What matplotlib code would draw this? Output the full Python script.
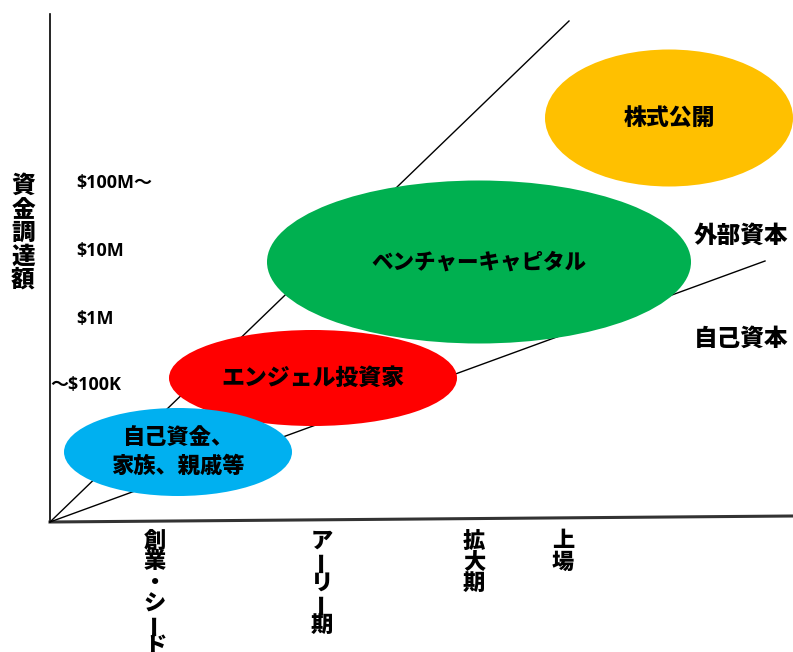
import matplotlib.pyplot as plt
from matplotlib.patches import Ellipse

plt.rcParams["font.family"] = ["Noto Sans CJK JP", "DejaVu Sans"]

# funding stages (x axis) and amounts (y axis)
stage_labels = ["創業・シード", "アーリー期", "拡大期", "上場"]
stage_x = [155, 322, 474, 563]
amount_labels = ["$100M〜", "$10M", "$1M", "〜$100K"]
amount_y = [183, 251, 319, 385]
amount_x = [76, 76, 76, 50]

# funding sources drawn as ellipses: label, centre, width, height, colour
source_labels = ["エンジェル投資家", "自己資金、\n家族、親戚等", "ベンチャーキャピタル", "株式公開"]
source_cx = [313, 178, 479, 669]
source_cy = [378, 452, 262, 118]
source_w = [288, 228, 424, 248]
source_h = [96, 88, 163, 137]
source_colors = ["#FF0000", "#00B0F0", "#00B050", "#FFC000"]

capital_labels = ["外部資本", "自己資本"]
capital_y = [236, 339]


def vertical_text(ax, x, y0, text, step, size):
    """Stack characters top to bottom, turning long vowel marks upright."""
    for i, ch in enumerate(text):
        rot = 90 if ch == "ー" else 0
        ax.text(x, y0 + i * step, ch, ha="center", va="center", rotation=rot,
                fontsize=size, fontweight="heavy")


fig = plt.figure(figsize=(7.93, 6.52), dpi=100)
ax = fig.add_axes([0, 0, 1, 1])
ax.set_xlim(0, 793)
ax.set_ylim(652, 0)
ax.axis("off")

# axes and the two boundary lines
ax.plot([50, 50], [14, 522], color="black", lw=1.2)
ax.plot([50, 793], [522, 516], color="#333333", lw=2.2)
ax.plot([50, 569], [522, 21], color="black", lw=1)
ax.plot([50, 765], [522, 261], color="black", lw=1)

label_sizes = [16.5, 16, 15.5, 16.5]
for i in range(len(source_labels)):
    ax.add_patch(Ellipse((source_cx[i], source_cy[i]), source_w[i], source_h[i],
                         facecolor=source_colors[i], edgecolor="none", zorder=3))
    ax.text(source_cx[i], source_cy[i], source_labels[i], ha="center", va="center",
            fontsize=label_sizes[i], fontweight="heavy", linespacing=1.35, zorder=4)

for lab, x, y in zip(amount_labels, amount_x, amount_y):
    ax.text(x, y, lab, ha="left", va="center", fontsize=13, fontweight="bold",
            family=["Open Sans", "Noto Sans CJK JP"])

for lab, y in zip(capital_labels, capital_y):
    ax.text(741, y, lab, ha="center", va="center", fontsize=17, fontweight="heavy")

vertical_text(ax, 23, 186, "資金調達額", 23.4, 17)
for lab, x in zip(stage_labels, stage_x):
    vertical_text(ax, x, 541, lab, 21, 16)

fig.savefig("out.png", dpi=100)
